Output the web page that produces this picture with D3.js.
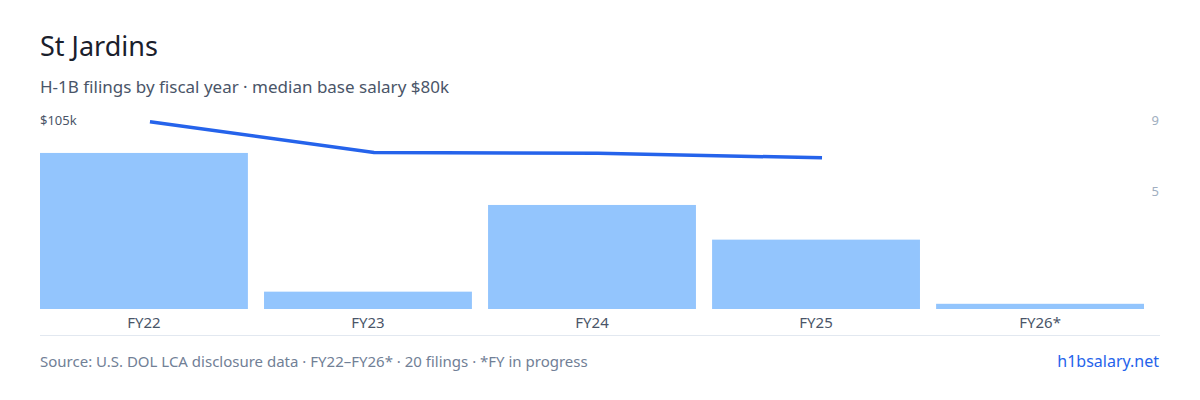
<!DOCTYPE html>
<html>
<head>
<meta charset="utf-8">
<script src="https://cdn.jsdelivr.net/npm/d3@7"></script>
<style>
  body { margin: 0; background: #fff; font-family: "Noto Sans", sans-serif; }
</style>
</head>
<body>
<svg id="chart" width="1200" height="400"></svg>
<script>
const years = ['FY22', 'FY23', 'FY24', 'FY25', 'FY26*']
const filings = [9, 1, 6, 4, 0.3]
const salaryYears = ['FY22', 'FY23', 'FY24', 'FY25']
const salaries = [104, 87, 86.5, 84]
const rightTicks = [9, 5]

const svg = d3.select('#chart')
const plotTop = 120, base = 309

const x = d3.scaleBand().domain(years).range([40, 1144]).paddingInner(0.072)
const y = d3.scaleLinear().domain([0, 10.9]).range([base, plotTop])
const ySal = d3.scaleLinear().domain([0, 105]).range([base, plotTop])
const yTick = d3.scaleLinear().domain([5, 9]).range([191, 120])

svg.append('text').attr('x', 40).attr('y', 56).attr('font-size', 27).attr('fill', '#1a202c').text('St Jardins')
svg.append('text').attr('x', 40).attr('y', 93).attr('font-size', 17).attr('fill', '#4a5568')
  .text('H-1B filings by fiscal year · median base salary $80k')

svg.selectAll('.bar').data(years).enter().append('rect')
  .attr('x', d => x(d)).attr('width', x.bandwidth())
  .attr('y', (d, i) => y(filings[i])).attr('height', (d, i) => base - y(filings[i]))
  .attr('fill', '#93c5fd')

svg.append('path')
  .datum(salaryYears.map((d, i) => [x(d) + x.bandwidth() / 2 + 6, ySal(salaries[i])]))
  .attr('d', d3.line()).attr('fill', 'none').attr('stroke', '#2563eb').attr('stroke-width', 3.5)

svg.append('text').attr('x', 40).attr('y', 125).attr('font-size', 13).attr('fill', '#4a5568').text('$105k')
svg.selectAll('.rt').data(rightTicks).enter().append('text')
  .attr('x', 1159).attr('y', d => yTick(d) + 5).attr('text-anchor', 'end')
  .attr('font-size', 13).attr('fill', '#a0aec0').text(d => d)

const axis = svg.append('g').attr('transform', 'translate(0,309)')
  .call(d3.axisBottom(x).tickSize(0).tickPadding(8))
axis.select('.domain').remove()
axis.selectAll('text').attr('font-size', 15).attr('fill', '#4a5568').attr('font-family', '"Noto Sans", sans-serif')

svg.append('line').attr('x1', 40).attr('x2', 1160).attr('y1', 335.5).attr('y2', 335.5).attr('stroke', '#e2e8f0')

svg.append('text').attr('x', 40).attr('y', 367).attr('font-size', 15).attr('fill', '#718096')
  .text('Source: U.S. DOL LCA disclosure data · FY22–FY26* · 20 filings · *FY in progress')
svg.append('text').attr('x', 1159).attr('y', 367).attr('text-anchor', 'end').attr('font-size', 16).attr('fill', '#2563eb')
  .text('h1bsalary.net')
</script>
</body>
</html>
